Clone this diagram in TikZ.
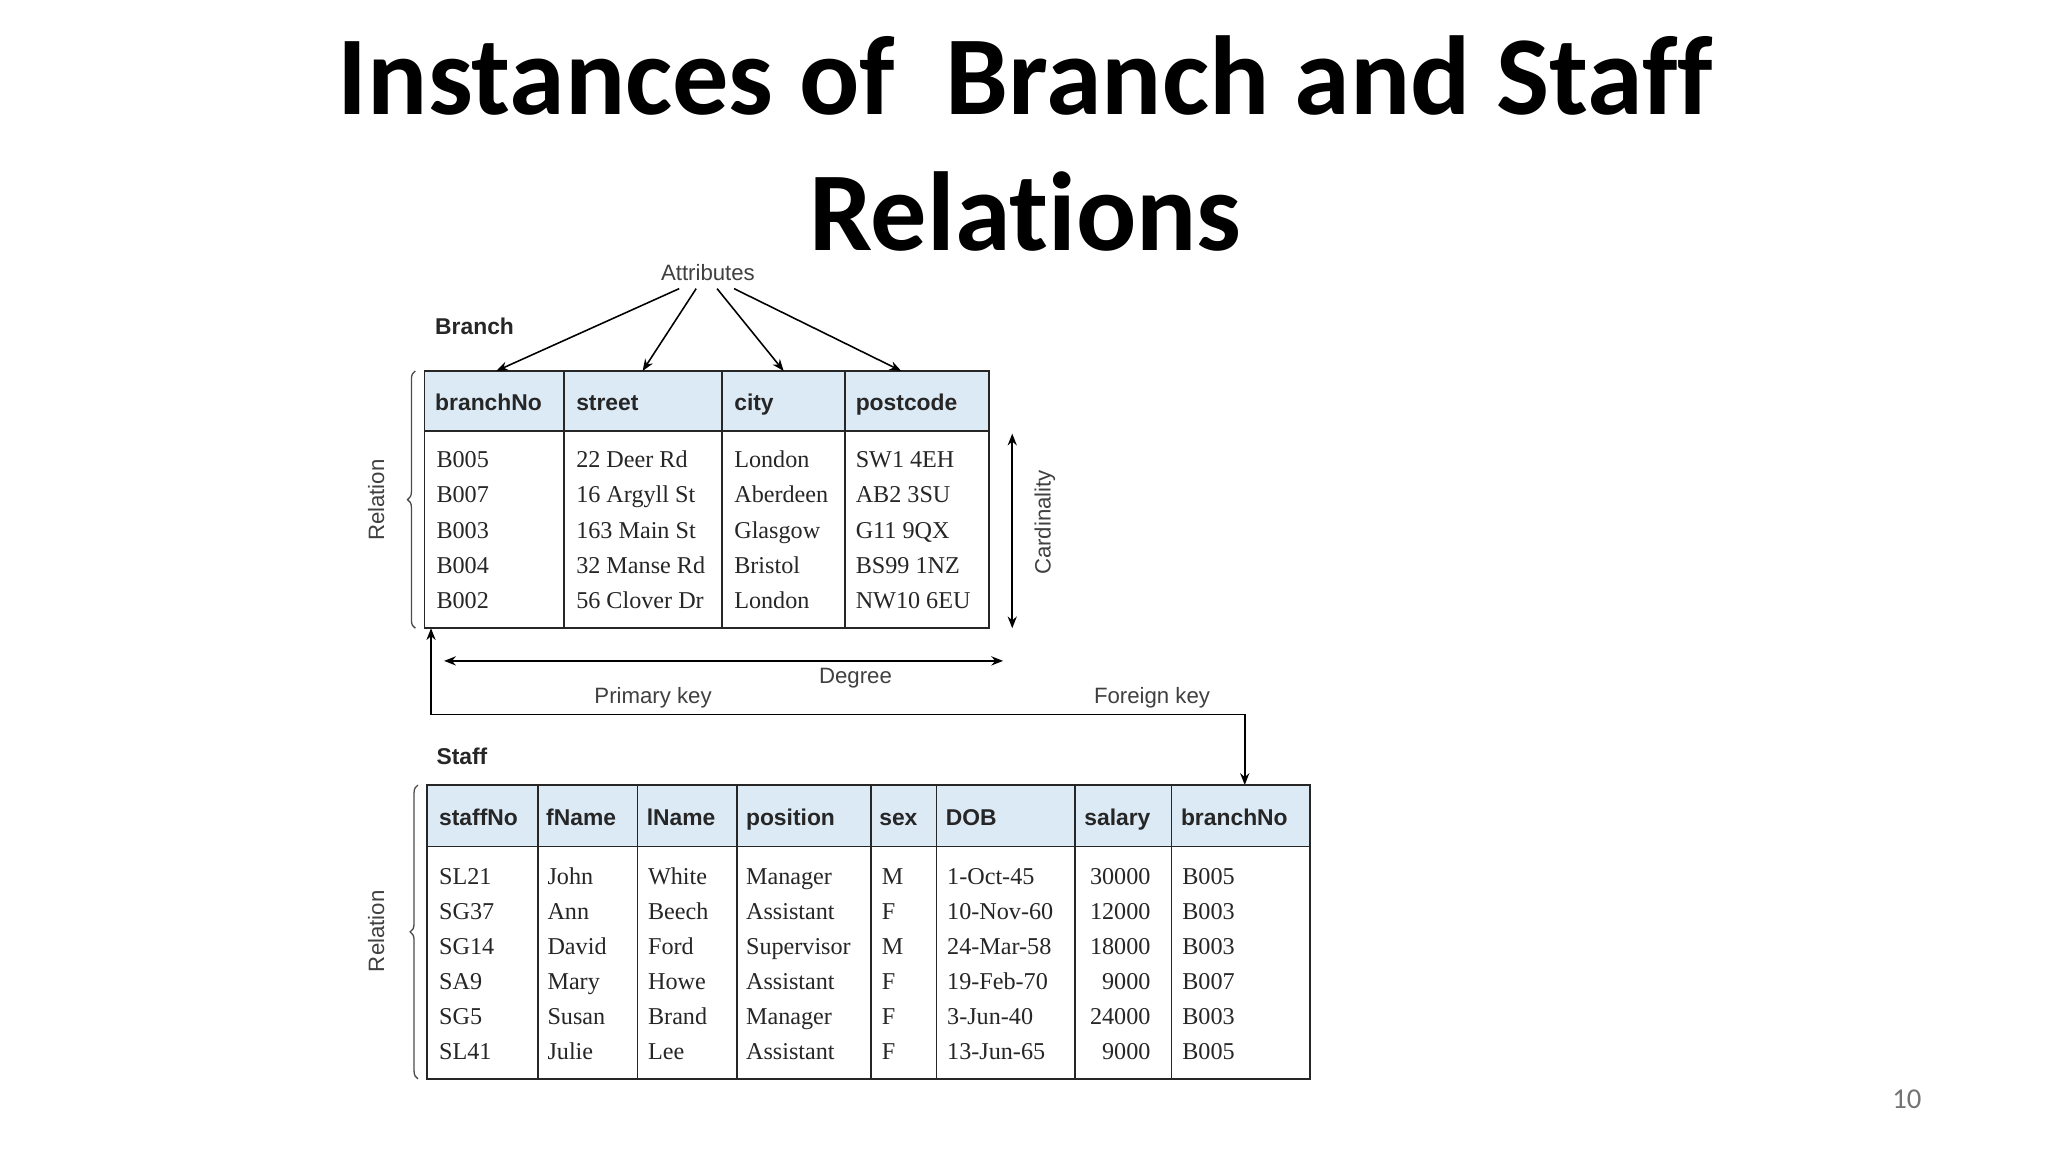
\documentclass[tikz,border=0pt]{standalone}
\usepackage{fontspec}
\setmainfont{Liberation Serif}
\newfontfamily\ttl[Ligatures=NoCommon]{Carlito}
\newfontfamily\lsans{Liberation Sans}
\usetikzlibrary{arrows.meta,decorations.pathreplacing}
\definecolor{hdr}{HTML}{DCEAF6}
\begin{document}
\begin{tikzpicture}[x=1pt,y=-1pt,
  tbl/.style={line width=1.3pt,draw=black!85},
  arr/.style={line width=1.2pt,-{Stealth[length=9pt,width=7pt]}},
  darr/.style={line width=1.2pt,{Stealth[length=9pt,width=7pt]}-{Stealth[length=9pt,width=7pt]}},
  lab/.style={font=\lsans\fontsize{17}{19}\selectfont,text=black!75},
  hd/.style={font=\lsans\bfseries\fontsize{17.5}{19}\selectfont,anchor=base west,text=black!85,inner sep=0pt},
  cell/.style={font=\fontsize{18.5}{20}\selectfont,anchor=base west,text=black!85,inner sep=0pt},
  brace/.style={decorate,decoration={brace,amplitude=6pt},line width=1pt,draw=black!70}]
\useasboundingbox[fill=white] (0,0) rectangle (1568,882);
\node[font=\ttl\bfseries\fontsize{86}{96}\selectfont] (t1) at (785,58) {Instances of\ \ Branch and Staff};
\node[font=\ttl\bfseries\fontsize{86}{96}\selectfont] (t2) at (785,162) {Relations};
% Branch
\node[lab] (attr) at (542,209) {Attributes};
\node[hd] (bn) at (333,256) {Branch};
\fill[hdr] (325,284) rectangle (757,330);
\draw[tbl] (325,284) rectangle (757,481);
\draw[tbl] (325,330) -- (757,330);
\foreach \x in {432,553,647} \draw[tbl] (\x,284) -- (\x,481);
\foreach \t/\x in {branchNo/333,street/441,city/562,postcode/655} \node[hd] at (\x,314) {\t};
\foreach \x/\col in {334/{B005,B007,B003,B004,B002},441/{22 Deer Rd,16 Argyll St,163 Main St,32 Manse Rd,56 Clover Dr},562/{London,Aberdeen,Glasgow,Bristol,London},655/{SW1 4EH,AB2 3SU,G11 9QX,BS99 1NZ,NW10 6EU}}
  \foreach \v [count=\i] in \col \node[cell] at (\x,{358+27*(\i-1)}) {\v};
\coordinate (a1) at (380,284); \coordinate (a2) at (492,284);
\coordinate (a3) at (600,284); \coordinate (a4) at (690,284);
\draw[arr] (520,221) -- (a1);
\draw[arr] (533,221) -- (a2);
\draw[arr] (549,221) -- (a3);
\draw[arr] (562,221) -- (a4);
\draw[brace] (318,481) -- (318,284);
\node[lab,rotate=90] (r1) at (288,383) {Relation};
\coordinate (c1) at (775,332); \coordinate (c2) at (775,481);
\draw[darr] (c1) -- (c2);
\node[lab,rotate=90] (card) at (800,400) {Cardinality};
\coordinate (d1) at (340,506); \coordinate (d2) at (768,506);
\draw[darr] (d1) -- (d2);
\node[lab] (deg) at (655,519) {Degree};
\node[lab] (pk) at (500,534) {Primary key};
\node[lab] (fk) at (882,534) {Foreign key};
\coordinate (pkt) at (330,481); \coordinate (fkt) at (953,601);
\draw[line width=1.2pt,{Stealth[length=9pt,width=7pt]}-{Stealth[length=9pt,width=7pt]}] (pkt) -- (330,547) -- (953,547) -- (fkt);
% Staff
\node[hd] (sn) at (334,585) {Staff};
\fill[hdr] (327,601) rectangle (1003,648);
\draw[tbl] (327,601) rectangle (1003,826);
\draw[tbl] (327,648) -- (1003,648);
\foreach \x in {412,488,564,667,717,823,897} \draw[tbl] (\x,601) -- (\x,826);
\foreach \t/\x in {staffNo/336,fName/418,lName/495,position/571,sex/673,DOB/724,salary/830,branchNo/904} \node[hd] at (\x,632) {\t};
\foreach \x/\col in {336/{SL21,SG37,SG14,SA9,SG5,SL41},419/{John,Ann,David,Mary,Susan,Julie},496/{White,Beech,Ford,Howe,Brand,Lee},571/{Manager,Assistant,Supervisor,Assistant,Manager,Assistant},675/{M,F,M,F,F,F},725/{1-Oct-45,10-Nov-60,24-Mar-58,19-Feb-70,3-Jun-40,13-Jun-65},905/{B005,B003,B003,B007,B003,B005}}
  \foreach \v [count=\i] in \col \node[cell] at (\x,{677+26.8*(\i-1)}) {\v};
\foreach \v [count=\i] in {30000,12000,18000,9000,24000,9000} \node[cell,anchor=base east] at (881,{677+26.8*(\i-1)}) {\v};
\draw[brace] (320,826) -- (320,601);
\node[lab,rotate=90] (r2) at (288,713) {Relation};
\node[font=\ttl\fontsize{22}{24}\selectfont,text=black!55] (pg) at (1460,842) {10};
\end{tikzpicture}
\end{document}
